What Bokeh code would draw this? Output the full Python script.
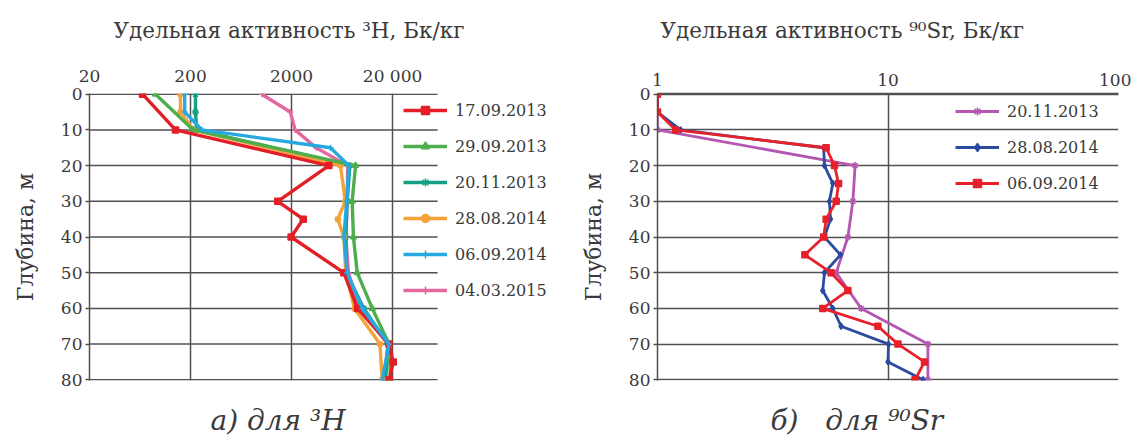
from bokeh.plotting import figure
from bokeh.models import Range1d, FixedTicker, Legend, LegendItem
from bokeh.core.properties import value
from bokeh.layouts import row, column
from bokeh.embed import file_html
from bokeh.resources import INLINE

# ---------------- data: 3H, Bq/kg ----------------
depth_170913 = [0, 10, 20, 30, 35, 40, 50, 60, 70, 75, 80]
h3_170913 = [67, 142, 4680, 1460, 2610, 1980, 6580, 9000, 18450, 20300, 18500]
depth_290913 = [0, 10, 20, 30, 40, 50, 60, 70, 80]
h3_290913 = [90, 213, 8600, 7960, 8200, 8930, 12590, 18450, 19100]
depth_201113 = [0, 5, 10, 20, 30, 40, 50, 60, 70, 80]
h3_201113 = [224, 224, 230, 7550, 7110, 6870, 6950, 10390, 18000, 17070]
depth_280814 = [0, 5, 10, 20, 30, 35, 40, 50, 60, 70, 80]
h3_280814 = [159, 159, 215, 6100, 6800, 5740, 6600, 6870, 8400, 15000, 15800]
depth_060914 = [0, 5, 10, 15, 20, 30, 40, 50, 60, 70, 80]
h3_060914 = [175, 175, 260, 4860, 7380, 7020, 6600, 7100, 10020, 18450, 15800]
depth_040315 = [0, 5, 10, 15, 20, 30, 40, 50, 60, 70, 80]
h3_040315 = [1017, 1941, 2173, 3500, 7200, 7100, 6900, 7300, 9500, 18000, 16500]

h3_ticks = [20, 200, 2000, 20000]
h3_tick_labels = ["20", "200", "2000", "20 000"]
h3_grid_end = 55800          # where the horizontal grid of the left chart stops
h3_range = (20, 1030000)     # wide frame so the legend sits inside it

# ---------------- data: 90Sr, Bq/kg ----------------
depth_sr_201113 = [0, 10, 20, 30, 40, 50, 60, 70, 80]
sr_201113 = [1.0, 1.0, 7.2, 7.04, 6.7, 5.96, 7.65, 14.9, 14.9]
depth_sr = [0, 5, 10, 15, 20, 25, 30, 35, 40, 45, 50, 55, 60, 65, 70, 75, 80]
sr_280814 = [1.0, 1.0, 1.26, 5.26, 5.3, 5.76, 5.57, 5.63, 5.3, 6.22, 5.3, 5.21, 5.76, 6.26, 10.05, 10.0, 14.2]
sr_060914 = [1.0, 1.0, 1.2, 5.39, 5.86, 6.1, 5.96, 5.39, 5.26, 4.36, 5.66, 6.7, 5.21, 9.04, 11.05, 14.4, 13.1]

sr_ticks = [1, 10, 100]
sr_tick_labels = ["1", "10", "100"]
depth_ticks = [0, 10, 20, 30, 40, 50, 60, 70, 80]

titles = ["Удельная активность ³H, Бк/кг", "Удельная активность ⁹⁰Sr, Бк/кг"]
captions = ["а) для ³H", "б)\u00a0\u00a0\u00a0для ⁹⁰Sr"]

FONT = "DejaVu Serif"
TXT = "#3a3a3a"
GRID = "#505050"
W1, W2 = 573, 558
TOP_H, BOT_H = 52, 51


def text_strip(width, height, x, y, text, size, style):
    p = figure(width=width, height=height, x_range=Range1d(0, width),
               y_range=Range1d(0, height), output_backend="svg", toolbar_location=None,
               min_border_left=0, min_border_right=0, min_border_top=0, min_border_bottom=0,
               x_axis_type=None, y_axis_type=None)
    p.outline_line_color = None
    p.grid.visible = False
    p.text(x=[x], y=[y], text=[text], text_font=value(FONT), text_font_size=value(size),
           text_font_style=style, text_color=TXT, text_align="left", text_baseline="middle")
    return p


def base_fig(width, bl, br, xr, ticks, labels, hgrid):
    p = figure(width=width, height=340, x_axis_type="log", x_axis_location="above",
               x_range=Range1d(*xr), y_range=Range1d(80.2, -0.2), output_backend="svg",
               toolbar_location=None, min_border_left=bl, min_border_right=br,
               min_border_top=41, min_border_bottom=12)
    p.outline_line_color = None
    p.title.visible = False
    xa = p.xaxis[0]
    xa.ticker = FixedTicker(ticks=ticks)
    xa.major_label_overrides = {t_: l for t_, l in zip(ticks, labels)}
    xa.major_tick_line_color = None
    xa.minor_tick_line_color = None
    xa.axis_line_color = None if hgrid else GRID
    xa.axis_line_width = 1.5
    xa.major_label_text_font = FONT
    xa.major_label_text_font_size = "17px"
    xa.major_label_text_color = TXT
    xa.major_label_standoff = 2
    ya = p.yaxis[0]
    ya.ticker = FixedTicker(ticks=depth_ticks)
    ya.axis_label = "Глубина, м"
    ya.axis_label_text_font = FONT
    ya.axis_label_text_font_size = "22px"
    ya.axis_label_text_font_style = "normal"
    ya.axis_label_text_color = TXT
    ya.axis_label_standoff = 20
    ya.major_label_text_font = FONT
    ya.major_label_text_font_size = "17px"
    ya.major_label_text_color = TXT
    ya.major_tick_in = 0
    ya.major_tick_out = 4
    ya.major_tick_line_color = GRID
    ya.major_tick_line_width = 1.5
    ya.minor_tick_line_color = None
    ya.axis_line_color = GRID
    ya.axis_line_width = 1.5
    ya.major_label_standoff = 3
    p.xgrid.ticker = FixedTicker(ticks=ticks)
    p.ygrid.ticker = FixedTicker(ticks=depth_ticks)
    for g in (p.xgrid[0], p.ygrid[0]):
        g.grid_line_color = GRID
        g.grid_line_width = 1.5
    if hgrid:
        p.ygrid.visible = False
        n = len(depth_ticks)
        p.segment(x0=[ticks[0]] * n, x1=[hgrid] * n, y0=depth_ticks, y1=depth_ticks,
                  line_color=GRID, line_width=1.5)
    return p


def style_legend(leg):
    leg.background_fill_alpha = 0
    leg.border_line_color = None
    leg.padding = 0
    leg.margin = 0
    leg.spacing = 16
    leg.glyph_height = 20
    leg.glyph_width = 44
    leg.label_height = 20
    leg.label_standoff = 8
    leg.label_text_font = FONT
    leg.label_text_font_size = "16px"
    leg.label_text_color = TXT


# ---------------- left chart ----------------
p1 = base_fig(W1, 89, 8, h3_range, h3_ticks, h3_tick_labels, h3_grid_end)
series1 = [
    ("04.03.2015", depth_040315, h3_040315, "#e4679f", "cross", 6),
    ("20.11.2013", depth_201113, h3_201113, "#13a084", "asterisk", 7),
    ("28.08.2014", depth_280814, h3_280814, "#f5a23a", "circle", 5),
    ("29.09.2013", depth_290913, h3_290913, "#4fae4c", "triangle", 6),
    ("17.09.2013", depth_170913, h3_170913, "#e41e26", "square", 6),
    ("06.09.2014", depth_060914, h3_060914, "#26a8e0", "cross", 6),
]
items1 = {}
for name, d, v, c, m, s in series1:
    r1 = p1.line(v, d, line_color=c, line_width=3.4)
    r2 = p1.scatter(v, d, marker=m, size=s, line_color=c, fill_color=c, line_width=1.5)
    items1[name] = [r1, r2]
order1 = ["17.09.2013", "29.09.2013", "20.11.2013", "28.08.2014", "06.09.2014", "04.03.2015"]
leg1 = Legend(items=[LegendItem(label=n, renderers=items1[n]) for n in order1],
              location=(314, 80), orientation="vertical")
style_legend(leg1)
p1.add_layout(leg1)

# ---------------- right chart ----------------
p2 = base_fig(W2, 84, 13, (1, 100), sr_ticks, sr_tick_labels, None)
series2 = [
    ("20.11.2013", depth_sr_201113, sr_201113, "#b557b0", "asterisk", 7),
    ("28.08.2014", depth_sr, sr_280814, "#2b4aa0", "diamond", 6),
    ("06.09.2014", depth_sr, sr_060914, "#e8202a", "square", 6),
]
items2 = []
for name, d, v, c, m, s in series2:
    r1 = p2.line(v, d, line_color=c, line_width=2.8)
    r2 = p2.scatter(v, d, marker=m, size=s, line_color=c, fill_color=c, line_width=1.5)
    items2.append(LegendItem(label=name, renderers=[r1, r2]))
leg2 = Legend(items=items2, location=(298, 187), orientation="vertical")
style_legend(leg2)
p2.add_layout(leg2)

# ---------------- titles and captions ----------------
t1 = text_strip(W1, TOP_H, 113, 22, titles[0], "21.5px", "normal")
t2 = text_strip(W2, TOP_H, 87, 22, titles[1], "21.5px", "normal")
c1 = text_strip(W1, BOT_H, 210, 23, captions[0], "28px", "italic")
c2 = text_strip(W2, BOT_H, 197, 23, captions[1], "28px", "italic")

layout = column(row(t1, t2), row(p1, p2), row(c1, c2))
open("out.html", "w").write(file_html(layout, INLINE))
